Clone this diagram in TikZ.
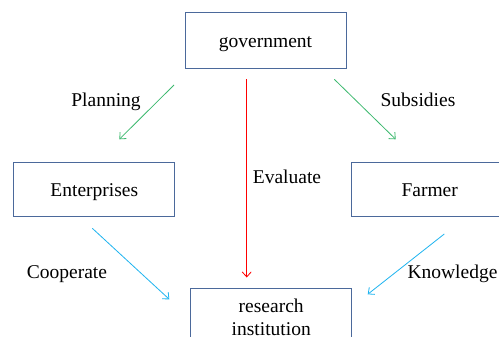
\documentclass[tikz,border=0pt]{standalone}
\usepackage{fontspec}
\setmainfont{Liberation Serif}
\usetikzlibrary{arrows.meta}
\definecolor{boxline}{RGB}{75,105,155}
\definecolor{arrgreen}{RGB}{60,185,110}
\definecolor{arrblue}{RGB}{30,180,240}
\definecolor{arrred}{RGB}{255,0,0}
\tikzset{
  box/.style={draw=boxline, line width=0.9pt, inner sep=0pt, text height=13.5pt, text depth=0pt},
  lbl/.style={inner sep=0pt, anchor=base},
  conn/.style={line width=0.8pt, -{Straight Barb[length=5pt,width=9pt,line width=0.8pt]}},
}
\begin{document}
\begin{tikzpicture}[x=1pt,y=-1pt,font=\fontsize{19.5}{23}\selectfont]
\useasboundingbox (0,0) rectangle (499,337);
\fill[white] (0,0) rectangle (499,337);
% boxes
\node[box, minimum width=161pt, minimum height=56pt] (gov) at (265.5,40.5) {government};
\node[box, minimum width=161pt, minimum height=54.5pt] (ent) at (94.3,189.5) {Enterprises};
\node[box, minimum width=156pt, minimum height=54.5pt] (far) at (429.7,189.5) {Farmer};
\node[draw=boxline, line width=0.9pt, inner xsep=0pt, inner ysep=10.4pt, minimum width=161pt, align=center, anchor=north] (res) at (271.2,288.3) {research\\institution};
% arrow end points
\coordinate (p1) at (174,85);   \coordinate (p2) at (119.3,139.3);
\coordinate (s1) at (334.3,79.3); \coordinate (s2) at (395.7,139.3);
\coordinate (e1) at (246.7,79.3); \coordinate (e2) at (246.7,277.5);
\coordinate (c1) at (92.3,228.3); \coordinate (c2) at (169.3,299.3);
\coordinate (k1) at (444.3,234); \coordinate (k2) at (367.7,294.3);
% connectors
\draw[conn, arrgreen] (p1) -- (p2);
\draw[conn, arrgreen] (s1) -- (s2);
\draw[conn, arrred] (e1) -- (e2);
\draw[conn, arrblue] (c1) -- (c2);
\draw[conn, arrblue] (k1) -- (k2);
% labels
\node[lbl] (lplan) at (106,107) {Planning};
\node[lbl] (lsub) at (418,107) {Subsidies};
\node[lbl] (leval) at (287,184) {Evaluate};
\node[lbl] (lcoop) at (67,278) {Cooperate};
\node[lbl] (lknow) at (452.5,278) {Knowledge};
\end{tikzpicture}
\end{document}
